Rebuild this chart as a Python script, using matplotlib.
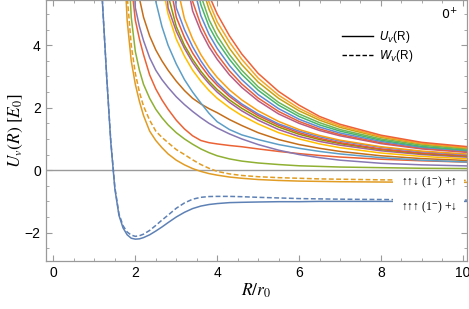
import numpy as np
import matplotlib
matplotlib.use("Agg")
import matplotlib.pyplot as plt
from matplotlib.lines import Line2D
from matplotlib.patches import Rectangle
from matplotlib.font_manager import FontProperties

plt.rcParams.update({"font.family": ["Liberation Sans", "DejaVu Sans"], "mathtext.fontset": "stix"})

# shared R grid; each curve is aligned to the tail of it
r_grid = [1.1, 1.2, 1.3, 1.4, 1.5, 1.6, 1.7, 1.8, 1.9, 2.0, 2.1, 2.2, 2.35, 2.5, 2.65, 2.8,
          3.0, 3.2, 3.4, 3.6, 3.8, 4.0, 4.3, 4.6, 5.0, 5.5, 6.0, 6.5, 7.0, 8.0, 9.0, 10.3]

# bound channels: U (solid) and W (dashed)
u_bound1 = [8.0, 5.3, 3.0, 0.9, -0.6, -1.45, -1.85, -2.07, -2.18, -2.21, -2.2, -2.16, -2.07, -1.95, -1.82, -1.68,
            -1.5, -1.35, -1.23, -1.15, -1.1, -1.07, -1.04, -1.03, -1.02, -1.01, -1.01, -1.0, -1.0, -1.0, -1.0, -1.0]
w_bound1 = [8.0, 5.3, 3.0, 0.95, -0.55, -1.4, -1.78, -1.98, -2.08, -2.12, -2.1, -2.05, -1.93, -1.77, -1.6, -1.44,
            -1.22, -1.05, -0.93, -0.87, -0.845, -0.84, -0.84, -0.85, -0.87, -0.89, -0.91, -0.92, -0.93, -0.94, -0.95, -0.96]
u_bound2 = [7.5, 4.8, 3.5, 2.75, 2.2, 1.75, 1.25, 0.95, 0.72, 0.52, 0.32, 0.17, 0.05, -0.04, -0.11, -0.16,
            -0.22, -0.26, -0.3, -0.33, -0.35, -0.36, -0.37, -0.38, -0.39, -0.39]
w_bound2 = [9.0, 5.6, 4.0, 3.1, 2.5, 2.05, 1.6, 1.25, 1.05, 0.88, 0.66, 0.5, 0.33, 0.18, 0.06, -0.04,
            -0.12, -0.17, -0.21, -0.24, -0.26, -0.28, -0.29, -0.31, -0.32, -0.33]

# repulsive channels (U only)
u_rep = [
    [7.5, 4.9, 3.8, 3.2, 2.75, 2.3, 1.95, 1.68, 1.45, 1.2, 1.0, 0.83, 0.68, 0.56, 0.46, 0.36, 0.29, 0.23, 0.18, 0.14, 0.12, 0.1, 0.08, 0.06, 0.05],
    [6.0, 4.8, 4.2, 3.7, 3.05, 2.6, 2.25, 1.95, 1.6, 1.32, 1.1, 0.95, 0.88, 0.84, 0.79, 0.75, 0.68, 0.6, 0.53, 0.47, 0.42, 0.35, 0.3, 0.25],
    [7.5, 5.2, 4.6, 4.15, 3.6, 3.2, 2.9, 2.65, 2.35, 2.1, 1.88, 1.68, 1.5, 1.35, 1.16, 1.0, 0.82, 0.64, 0.5, 0.4, 0.32, 0.22, 0.17, 0.13],
    [7.5, 5.5, 4.9, 4.3, 3.85, 3.5, 3.2, 2.85, 2.55, 2.3, 2.12, 1.97, 1.84, 1.62, 1.43, 1.2, 0.98, 0.82, 0.7, 0.6, 0.46, 0.37, 0.3],
    [8.0, 5.4, 4.6, 4.0, 3.4, 2.9, 2.5, 2.15, 1.82, 1.55, 1.3, 1.13, 0.98, 0.82, 0.7, 0.6, 0.52, 0.4, 0.32, 0.25],
    [6.0, 5.0, 4.2, 3.65, 3.2, 2.85, 2.55, 2.3, 2.0, 1.75, 1.48, 1.2, 1.0, 0.84, 0.72, 0.55, 0.44, 0.35],
    [7.5, 5.2, 4.45, 3.9, 3.45, 3.08, 2.77, 2.5, 2.17, 1.9, 1.6, 1.3, 1.08, 0.92, 0.8, 0.62, 0.5, 0.4],
    [9.0, 5.6, 4.6, 4.0, 3.55, 3.17, 2.85, 2.58, 2.25, 1.98, 1.68, 1.38, 1.15, 0.98, 0.85, 0.66, 0.53, 0.43],
    [6.3, 4.9, 4.25, 3.75, 3.35, 3.0, 2.72, 2.36, 2.07, 1.75, 1.44, 1.2, 1.02, 0.88, 0.68, 0.55, 0.45],
    [8.0, 5.2, 4.5, 3.95, 3.5, 3.12, 2.8, 2.42, 2.12, 1.8, 1.48, 1.25, 1.07, 0.93, 0.73, 0.59, 0.48],
    [6.0, 4.85, 4.2, 3.7, 3.3, 2.97, 2.57, 2.25, 1.9, 1.56, 1.3, 1.11, 0.96, 0.75, 0.61, 0.5],
    [6.4, 5.1, 4.45, 3.95, 3.55, 3.05, 2.65, 2.22, 1.8, 1.5, 1.27, 1.1, 0.85, 0.68, 0.55],
    [7.2, 5.4, 4.65, 4.12, 3.7, 3.18, 2.76, 2.31, 1.88, 1.56, 1.32, 1.14, 0.88, 0.7, 0.57],
    [6.0, 4.95, 4.35, 3.9, 3.35, 2.9, 2.42, 1.97, 1.63, 1.38, 1.19, 0.92, 0.73, 0.6],
    [6.5, 5.3, 4.6, 4.12, 3.55, 3.07, 2.56, 2.08, 1.72, 1.45, 1.25, 0.96, 0.76, 0.62],
    [5.6, 4.82, 4.3, 3.7, 3.2, 2.67, 2.17, 1.8, 1.52, 1.3, 1.0, 0.8, 0.65],
    [6.0, 5.15, 4.55, 3.9, 3.38, 2.82, 2.3, 1.9, 1.6, 1.37, 1.05, 0.84, 0.68],
    [6.4, 5.38, 4.75, 4.1, 3.55, 2.95, 2.4, 1.98, 1.66, 1.42, 1.08, 0.86, 0.7],
    [6.6, 5.6, 5.0, 4.3, 3.72, 3.1, 2.52, 2.08, 1.72, 1.47, 1.12, 0.89, 0.73],
]

colors = ["#5E81B5", "#E19C24", "#8FB032", "#EB6235", "#8778B3", "#C56E1A", "#5D9EC7",
          "#FFBF00", "#A5609D", "#929600", "#E95536", "#6685D9", "#F89F13", "#BC5B80",
          "#E8603C", "#5E8AD6", "#47B66D", "#6DB556", "#C8A313", "#F5A52A", "#EE6036"]

label_hi = "↑↑↓ (1$^{-}$) +↑"
label_lo = "↑↑↑ (1$^{-}$) +↓"

r = np.array(r_grid)
def tail(u):
    return r[-len(u):], np.array(u)

fig = plt.figure(figsize=(4.69, 3.09), dpi=100)
ax = fig.add_axes([0.0974, 0.1553, 0.8973, 0.8447])
lw = 1.1

ax.axhline(0, color="#9a9a9a", lw=1.0, zorder=1)
for u, c in zip([u_bound1, u_bound2] + u_rep, colors):
    ax.plot(*tail(u), color=c, lw=lw, zorder=2)
ax.plot(*tail(w_bound1), color=colors[0], lw=lw, ls=(0, (3.2, 1.6)), zorder=2)
ax.plot(*tail(w_bound2), color=colors[1], lw=lw, ls=(0, (3.2, 1.6)), zorder=2)

# white boxes behind the threshold labels
for y0, h in [(-0.63, 0.5), (-1.56, 0.76)]:
    ax.add_patch(Rectangle((8.29, y0), 1.74, h, facecolor="white", edgecolor="none", zorder=3))
tfont = dict(family=["Liberation Serif", "DejaVu Serif"], fontsize=8.4)
ax.text(8.5, -0.375, label_hi, va="center", ha="left", zorder=4, **tfont)
ax.text(8.5, -1.18, label_lo, va="center", ha="left", zorder=4, **tfont)

ax.text(0.958, 0.943, "$0^{+}$", transform=ax.transAxes, ha="center", va="center",
        fontsize=9, math_fontfamily="dejavusans")

handles = [Line2D([], [], color="black", lw=1.0), Line2D([], [], color="black", lw=1.0, ls=(0, (3.2, 1.6)))]
ax.legend(handles, ["$U_v$(R)", "$W_v$(R)"], loc="upper left", bbox_to_anchor=(0.704, 0.89),
          frameon=False, borderpad=0, borderaxespad=0, handlelength=2.6, handletextpad=0.5,
          labelspacing=0.3, prop=FontProperties(family="Liberation Sans", size=8.5, math_fontfamily="dejavusans"))

ax.set_xlim(-0.19, 10.09)
ax.set_ylim(-2.91, 5.45)
ax.set_xticks([0, 2, 4, 6, 8, 10])
ax.set_yticks([-2, 0, 2, 4])
ax.set_xticks(np.arange(0, 10.01, 0.5), minor=True)
ax.set_yticks(np.arange(-2.5, 5.01, 0.5), minor=True)
ax.tick_params(which="both", direction="in", top=True, right=True, color="#9a9a9a", labelsize=10)
ax.tick_params(which="major", length=4, width=0.8)
ax.tick_params(which="minor", length=2.2, width=0.6)
for s in ax.spines.values():
    s.set_color("#9a9a9a")
    s.set_linewidth(0.9)

ax.set_xlabel("$R/r_0$", fontsize=12.5, labelpad=1)
ax.set_ylabel("$U_v(R)\\ [E_0]$", fontsize=12.5, labelpad=0)

fig.savefig("out.png", dpi=100)
